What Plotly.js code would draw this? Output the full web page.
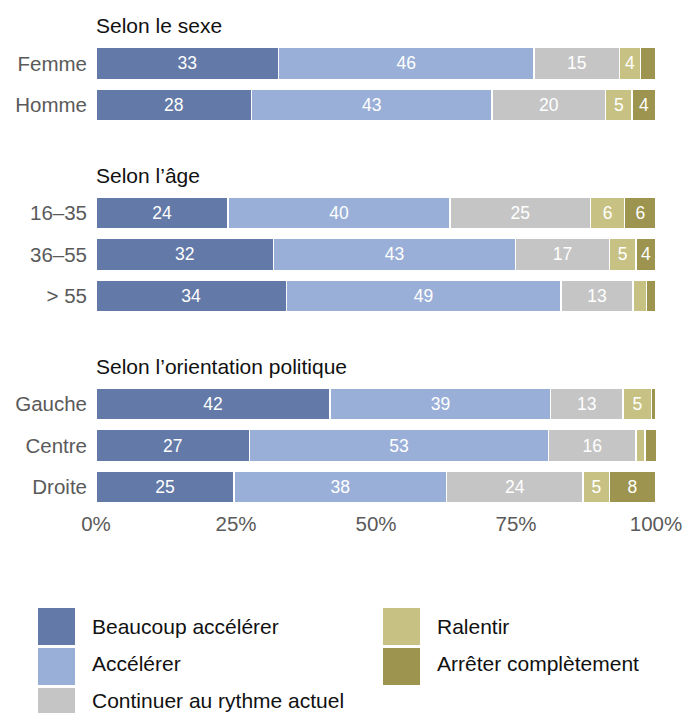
<!DOCTYPE html>
<html>
<head>
<meta charset="utf-8">
<script src="https://cdn.plot.ly/plotly-3.0.1.min.js"></script>
<style>html,body{margin:0;padding:0;background:#fff;}#chart{width:685px;height:713px;}</style>
</head>
<body>
<div id="chart"></div>
<script>
// ---- data ----
const groups = ["Selon le sexe", "Selon l’âge", "Selon l’orientation politique"];
const categories = ["Femme", "Homme", "16–35", "36–55", "> 55", "Gauche", "Centre", "Droite"];
const categoryGroup = [0, 0, 1, 1, 1, 2, 2, 2];
const seriesNames = ["Beaucoup accélérer", "Accélérer", "Continuer au rythme actuel", "Ralentir", "Arrêter complètement"];
const beaucoupAccelerer = [32.6, 27.8, 23.6, 31.7, 34.0, 41.8, 27.4, 24.6];
const accelerer         = [45.6, 42.9, 39.6, 43.2, 49.0, 39.4, 53.4, 38.0];
const continuer         = [15.3, 20.3, 25.1, 16.8, 12.9, 12.9, 15.6, 24.4];
const ralentir          = [3.7, 4.7, 6.1, 4.7, 2.4, 5.1, 1.6, 4.7];
const arreter           = [2.8, 4.3, 5.6, 3.6, 1.7, 0.8, 2.1, 8.2];
const xTickVals = [0, 25, 50, 75, 100];
const xTickText = ["0%", "25%", "50%", "75%", "100%"];

// ---- style ----
const colors = ["#6379a7", "#9aafd7", "#c5c5c5", "#c7c284", "#9c944f"];
const FONT = "Liberation Sans, Arial, Helvetica, sans-serif";
const W = 685, H = 713;
const M = {l: 96, r: 29, t: 18, b: 208};
const GROUP_GAP = 1.63;
const yRange = [10.7, -1.1];

const yPos = categories.map((c, i) => i + categoryGroup[i] * GROUP_GAP);
const seriesValues = [beaucoupAccelerer, accelerer, continuer, ralentir, arreter];

const traces = seriesValues.map((vals, s) => ({
  type: "bar",
  orientation: "h",
  name: seriesNames[s],
  x: vals,
  y: yPos,
  width: 0.77,
  marker: {color: colors[s], line: {color: "#ffffff", width: 1.5}},
  text: vals.map(v => v >= 3 ? String(Math.round(v)) : ""),
  texttemplate: "%{text}",
  textposition: "inside",
  insidetextanchor: "middle",
  textangle: 0,
  constraintext: "none",
  insidetextfont: {color: "#ffffff", size: 17.5, family: FONT},
  hoverinfo: "name+x",
  showlegend: false
}));

// headings
const annotations = groups.map((g, gi) => {
  const first = categoryGroup.indexOf(gi);
  return {
    text: g, xref: "paper", x: 0, xanchor: "left", xshift: -2,
    yref: "y", y: yPos[first] - 0.92, yanchor: "middle",
    showarrow: false, font: {size: 21, color: "#111111", family: FONT}
  };
});

// manual legend (large swatches)
const plotW = W - M.l - M.r, plotH = H - M.t - M.b;
const px2x = px => (px - M.l) / plotW;
const py2y = py => (H - M.b - py) / plotH;
const shapes = [];
const legendCols = [[0, 1, 2], [3, 4]];
const colX = [38, 383];
const SW = 37, PITCH = 40, TOP0 = 608;
const TEXT0 = 626, TEXT_PITCH = 37;
legendCols.forEach((col, ci) => {
  col.forEach((s, ri) => {
    const top = TOP0 + ri * PITCH;
    shapes.push({
      type: "rect", xref: "paper", yref: "paper",
      x0: px2x(colX[ci]), x1: px2x(colX[ci] + SW),
      y0: py2y(top + SW), y1: py2y(top),
      fillcolor: colors[s], line: {width: 0}, layer: "above"
    });
    annotations.push({
      text: seriesNames[s], xref: "paper", yref: "paper",
      x: px2x(colX[ci] + SW + 17), xanchor: "left", xshift: -2,
      y: py2y(TEXT0 + ri * TEXT_PITCH), yanchor: "middle",
      showarrow: false, font: {size: 21, color: "#111111", family: FONT}
    });
  });
});

const layout = {
  width: W, height: H,
  margin: M,
  barmode: "stack",
  bargap: 0,
  paper_bgcolor: "#ffffff",
  plot_bgcolor: "#ffffff",
  font: {family: FONT, color: "#5a5a5a", size: 20.5},
  showlegend: false,
  xaxis: {
    range: [0, 100], tickvals: xTickVals, ticktext: xTickText,
    showgrid: false, zeroline: false, showline: false, ticks: "",
    ticklabelstandoff: 4,
    tickfont: {size: 20.5, color: "#5a5a5a", family: FONT}, fixedrange: true
  },
  yaxis: {
    range: yRange, tickvals: yPos, ticktext: categories,
    showgrid: false, zeroline: false, showline: false, ticks: "",
    ticklabelstandoff: 8,
    tickfont: {size: 20.5, color: "#5a5a5a", family: FONT}, fixedrange: true
  },
  annotations: annotations,
  shapes: shapes
};

Plotly.newPlot("chart", traces, layout, {displayModeBar: false, staticPlot: true});
</script>
</body>
</html>
